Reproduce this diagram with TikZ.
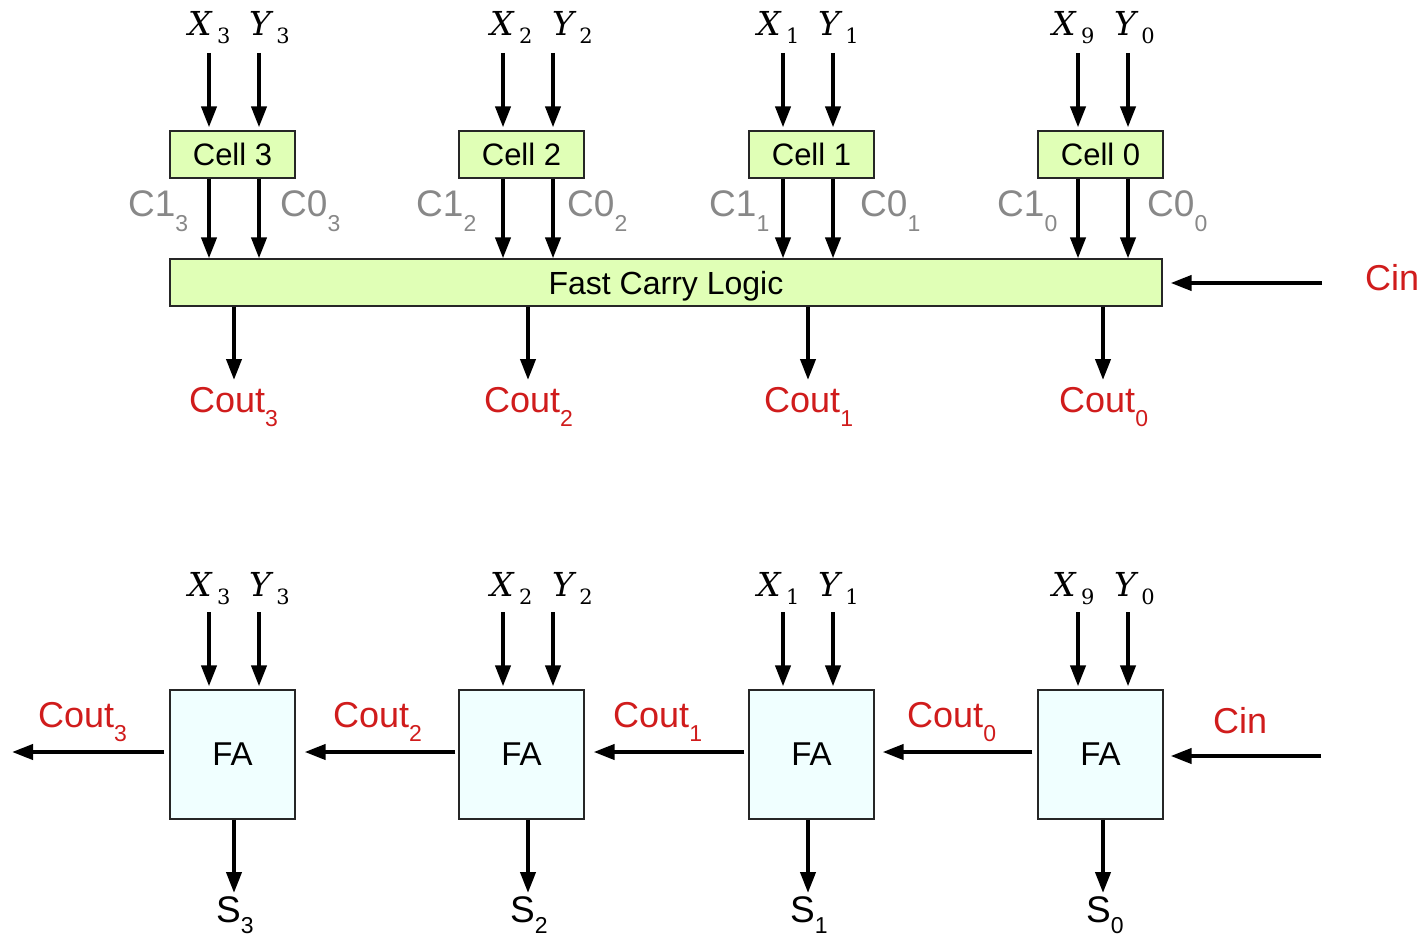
\documentclass[tikz,border=0pt]{standalone}
\usepackage{fontspec}
\setmainfont{Liberation Sans}
\newfontfamily\xyfont{DejaVu Serif}
\usetikzlibrary{arrows.meta}
\definecolor{cellgreen}{RGB}{224,255,182}
\definecolor{faazure}{RGB}{240,255,255}
\definecolor{labred}{RGB}{208,28,28}
\definecolor{labgray}{RGB}{136,136,136}
\newcommand{\sbx}[1]{\raisebox{-14pt}{\fontsize{23}{26}\selectfont #1}}
\newcommand{\xysb}[1]{\,\raisebox{-8pt}{\upshape\fontsize{21}{24}\selectfont #1}}
\tikzset{
  arr/.style={line width=4pt, -{Triangle[length=21pt,width=15pt]}},
  cellbox/.style={draw=black!85, line width=1.2pt, fill=cellgreen, minimum width=125pt, minimum height=47pt, inner sep=0pt, font=\fontsize{31}{34}\selectfont},
  fabox/.style={draw=black!85, line width=1.2pt, fill=faazure, minimum width=125pt, minimum height=129pt, inner sep=0pt, font=\fontsize{33}{36}\selectfont},
  xylab/.style={anchor=base west, inner sep=0pt, font=\xyfont\itshape\fontsize{33}{36}\selectfont},
  graylab/.style={anchor=base west, inner sep=0pt, text=labgray, font=\fontsize{37}{40}\selectfont},
  redlab/.style={anchor=base west, inner sep=0pt, text=labred, font=\fontsize{36}{40}\selectfont},
  slab/.style={anchor=base west, inner sep=0pt, font=\fontsize{37}{40}\selectfont},
}
\begin{document}
\begin{tikzpicture}[x=1pt,y=-1pt]
\useasboundingbox (0,0) rectangle (1424,936);
% ---------- top part ----------
\node[cellbox] (cell3) at (232.5,154.5) {Cell 3};
\node[cellbox] (cell2) at (521.5,154.5) {Cell 2};
\node[cellbox] (cell1) at (811.5,154.5) {Cell 1};
\node[cellbox] (cell0) at (1100.5,154.5) {Cell 0};
\node[draw=black!85, line width=1.2pt, fill=cellgreen, minimum width=992pt, minimum height=47pt, inner sep=0pt, text depth=0pt, font=\fontsize{32}{35}\selectfont] (fcl) at (666,282.5) {Fast Carry Logic};

\node[xylab] (tx3) at (188,36) {X\xysb{3}};
\node[xylab] (ty3) at (249,36) {Y\xysb{3}};
\node[xylab] (tx2) at (490,36) {X\xysb{2}};
\node[xylab] (ty2) at (552,36) {Y\xysb{2}};
\node[xylab] (tx1) at (757,36) {X\xysb{1}};
\node[xylab] (ty1) at (818,36) {Y\xysb{1}};
\node[xylab] (tx0) at (1052,36) {X\xysb{9}};
\node[xylab] (ty0) at (1114,36) {Y\xysb{0}};

\foreach \c/\a/\b in {3/209/259, 2/503/553, 1/783/833, 0/1078/1128}{
  \coordinate (ta\c) at (\a,53);
  \coordinate (tb\c) at (\b,53);
  \draw[arr, shorten >=3pt] (ta\c) -- (ta\c |- cell\c.north);
  \draw[arr, shorten >=3pt] (tb\c) -- (tb\c |- cell\c.north);
  \draw[arr] (cell\c.south -| ta\c) -- (ta\c |- fcl.north);
  \draw[arr] (cell\c.south -| tb\c) -- (tb\c |- fcl.north);
}

\node[graylab] (ga3) at (128,217) {C1\sbx{3}};
\node[graylab] (gb3) at (280,217) {C0\sbx{3}};
\node[graylab] (ga2) at (416,217) {C1\sbx{2}};
\node[graylab] (gb2) at (567,217) {C0\sbx{2}};
\node[graylab] (ga1) at (709,217) {C1\sbx{1}};
\node[graylab] (gb1) at (860,217) {C0\sbx{1}};
\node[graylab] (ga0) at (997,217) {C1\sbx{0}};
\node[graylab] (gb0) at (1147,217) {C0\sbx{0}};

\foreach \c/\a in {3/234, 2/528, 1/808, 0/1103}{
  \coordinate (co\c) at (\a,380);
  \draw[arr] (fcl.south -| co\c) -- (co\c);
}
\node[redlab] (rc3) at (189,412) {Cout\sbx{3}};
\node[redlab] (rc2) at (484,412) {Cout\sbx{2}};
\node[redlab] (rc1) at (764,412) {Cout\sbx{1}};
\node[redlab] (rc0) at (1059,412) {Cout\sbx{0}};

\coordinate (cinA) at (1322,283);
\draw[arr, shorten >=8pt] (cinA) -- (fcl.east |- cinA);
\node[redlab] (cinlabA) at (1365,290) {Cin};

% ---------- bottom part ----------
\node[fabox] (fa3) at (232.5,754.5) {FA};
\node[fabox] (fa2) at (521.5,754.5) {FA};
\node[fabox] (fa1) at (811.5,754.5) {FA};
\node[fabox] (fa0) at (1100.5,754.5) {FA};

\node[xylab] (bx3) at (188,596) {X\xysb{3}};
\node[xylab] (by3) at (249,596) {Y\xysb{3}};
\node[xylab] (bx2) at (490,596) {X\xysb{2}};
\node[xylab] (by2) at (552,596) {Y\xysb{2}};
\node[xylab] (bx1) at (757,596) {X\xysb{1}};
\node[xylab] (by1) at (818,596) {Y\xysb{1}};
\node[xylab] (bx0) at (1052,596) {X\xysb{9}};
\node[xylab] (by0) at (1114,596) {Y\xysb{0}};

\foreach \c/\a/\b in {3/209/259, 2/503/553, 1/783/833, 0/1078/1128}{
  \coordinate (ba\c) at (\a,612);
  \coordinate (bb\c) at (\b,612);
  \draw[arr, shorten >=3pt] (ba\c) -- (ba\c |- fa\c.north);
  \draw[arr, shorten >=3pt] (bb\c) -- (bb\c |- fa\c.north);
}

\coordinate (hy) at (0,752);
\coordinate (cout3end) at (12,752);
\draw[arr, shorten <=5pt] (fa3.west |- hy) -- (cout3end);
\draw[arr, shorten <=3pt, shorten >=9pt] (fa2.west |- hy) -- (fa3.east |- hy);
\draw[arr, shorten <=4pt, shorten >=9pt] (fa1.west |- hy) -- (fa2.east |- hy);
\draw[arr, shorten <=5pt, shorten >=8pt] (fa0.west |- hy) -- (fa1.east |- hy);
\coordinate (cinB) at (1321,756);
\draw[arr, shorten >=7pt] (cinB) -- (fa0.east |- cinB);

\node[redlab] (bc3) at (38,727) {Cout\sbx{3}};
\node[redlab] (bc2) at (333,727) {Cout\sbx{2}};
\node[redlab] (bc1) at (613,727) {Cout\sbx{1}};
\node[redlab] (bc0) at (907,727) {Cout\sbx{0}};
\node[redlab] (cinlabB) at (1213,733) {Cin};

\foreach \c/\a in {3/234, 2/528, 1/808, 0/1103}{
  \coordinate (so\c) at (\a,893);
  \draw[arr] (fa\c.south -| so\c) -- (so\c);
}
\node[slab] (s3) at (216,922) {S\raisebox{-11pt}{\fontsize{23}{26}\selectfont 3}};
\node[slab] (s2) at (510,922) {S\raisebox{-11pt}{\fontsize{23}{26}\selectfont 2}};
\node[slab] (s1) at (790,922) {S\raisebox{-11pt}{\fontsize{23}{26}\selectfont 1}};
\node[slab] (s0) at (1086,922) {S\raisebox{-11pt}{\fontsize{23}{26}\selectfont 0}};
\end{tikzpicture}
\end{document}
